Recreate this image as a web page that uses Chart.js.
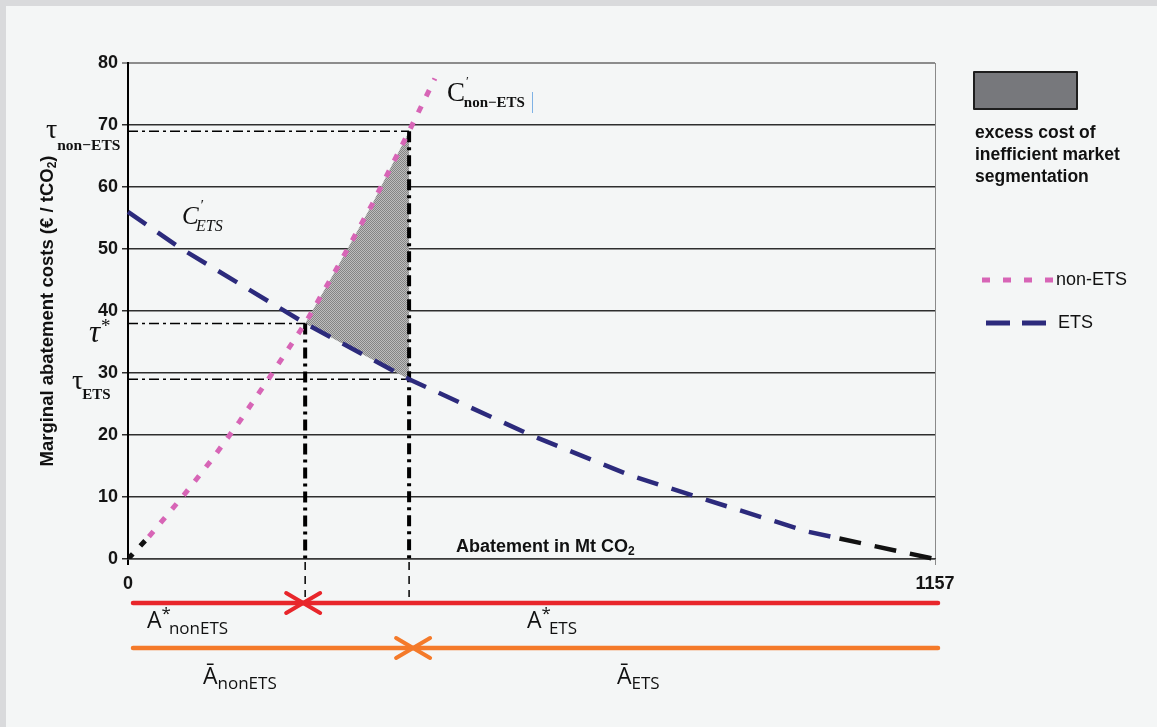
<!DOCTYPE html>
<html>
<head>
<meta charset="utf-8">
<script src="https://cdn.jsdelivr.net/npm/chart.js@4.4.1/dist/chart.umd.min.js"></script>
<style>
  html, body { margin: 0; padding: 0; background: #f4f6f6; }
  canvas { display: block; }
</style>
</head>
<body>
<canvas id="chart" width="1157" height="727"></canvas>
<script>
// Marginal abatement cost curves (€ / tCO2) against abatement (Mt CO2)
const costTicks = [0, 10, 20, 30, 40, 50, 60, 70, 80];
const abatementTicks = [0, 1157];

const etsX = [0, 77, 254, 403, 577, 720, 816, 975, 1020, 1157];
const etsY = [56, 50, 38, 29, 20, 13.5, 10, 4.4, 3.3, 0];

const nonEtsX = [0, 30, 80, 120, 160, 200, 254, 300, 350, 403, 440];
const nonEtsY = [0, 3.6, 10.3, 16.0, 22.2, 28.8, 38, 47, 57.2, 69, 77.5];

// Efficient split (common price τ*) and the fixed split Ā with its two prices
const optimumA = 254;
const optimumTau = 38;
const splitA = 403;
const tauNonEts = 69;
const tauEts = 29;

const pts = (xs, ys) => xs.map((x, i) => ({ x, y: ys[i] }));

// Excess cost area: between the non-ETS curve and the ETS curve from A* to Ā
const excessArea = [];
nonEtsX.forEach((x, i) => { if (x >= optimumA && x <= splitA) excessArea.push({ x, y: nonEtsY[i] }); });
for (let i = etsX.length - 1; i >= 0; i--) {
  if (etsX[i] >= optimumA && etsX[i] <= splitA) excessArea.push({ x: etsX[i], y: etsY[i] });
}

// fine dotted grey texture for the excess-cost area
function dotPattern(ctx, dark, light) {
  const c = document.createElement('canvas');
  c.width = 2; c.height = 2;
  const g = c.getContext('2d');
  g.fillStyle = light; g.fillRect(0, 0, 2, 2);
  g.fillStyle = dark; g.fillRect(0, 0, 1, 1); g.fillRect(1, 1, 1, 1);
  return ctx.createPattern(c, 'repeat');
}

const canvas = document.getElementById('chart');
const ctx0 = canvas.getContext('2d');
const areaFill = dotPattern(ctx0, '#858585', '#bdbdbd');

const PINK = '#d765b6';
const NAVY = '#2c2a7c';
const BLACK = '#111111';

function refLine(points, width, dash) {
  return {
    data: points, borderColor: '#000', borderWidth: width, borderDash: dash,
    pointRadius: 0, fill: false, tension: 0, clip: false, order: 5
  };
}

// draw a run of text pieces (base / sub / superscript) left to right
function rich(ctx, x, y, runs) {
  let cx = x;
  runs.forEach(r => {
    ctx.font = r.f;
    ctx.fillStyle = r.c || '#111';
    ctx.fillText(r.t, cx + (r.dx || 0), y + (r.dy || 0));
    cx += ctx.measureText(r.t).width + (r.dx || 0) + (r.gap || 0);
  });
  return cx;
}

const framePlugin = {
  id: 'frame',
  beforeDraw(chart) {
    const c = chart.ctx;
    c.save();
    c.fillStyle = '#d9dadc';
    c.fillRect(0, 0, chart.width, chart.height);
    c.fillStyle = '#f4f6f6';
    c.fillRect(6, 6, chart.width - 6, chart.height - 6);
    c.restore();
  }
};

function chevron(c, tipX, y, dir, color) {
  c.beginPath();
  c.moveTo(tipX - dir * 17, y - 10);
  c.lineTo(tipX, y);
  c.lineTo(tipX - dir * 17, y + 10);
  c.strokeStyle = color;
  c.stroke();
}

const notesPlugin = {
  id: 'notes',
  afterDraw(chart) {
    const c = chart.ctx;
    const xs = chart.scales.x, ys = chart.scales.y;
    const X = v => xs.getPixelForValue(v);
    const Y = v => ys.getPixelForValue(v);
    c.save();
    c.textBaseline = 'alphabetic';
    c.textAlign = 'left';

    const SERIF = '"Liberation Serif", "DejaVu Serif", serif';
    const SANS = '"Liberation Sans", Arial, sans-serif';
    const OPEN = '"Open Sans", "Noto Sans", sans-serif';

    // price labels on the cost axis
    rich(c, 46, Y(tauNonEts) + 7, [
      { t: 'τ', f: `28px ${SERIF}` },
      { t: 'non−ETS', f: `bold 15.5px ${SERIF}`, dx: 0, dy: 12 }
    ]);
    rich(c, 89, Y(optimumTau) + 19, [
      { t: 'τ', f: `italic 31px ${SERIF}` },
      { t: '*', f: `19px ${SERIF}`, dx: 1, dy: -10 }
    ]);
    rich(c, 72, Y(tauEts) + 10, [
      { t: 'τ', f: `28px ${SERIF}` },
      { t: 'ETS', f: `bold 15px ${SERIF}`, dx: -1, dy: 10 }
    ]);

    // curve names
    rich(c, 182, 224, [
      { t: 'C', f: `italic 25px ${SERIF}` },
      { t: '\u2032', f: `italic 15px ${SERIF}`, dx: 1, dy: -14, gap: -7 },
      { t: 'ETS', f: `italic 16px ${SERIF}`, dy: 7 }
    ]);
    rich(c, 447, 101, [
      { t: 'C', f: `27px ${SERIF}` },
      { t: '\u2032', f: `13px ${SERIF}`, dx: 1, dy: -16, gap: -5 },
      { t: 'non−ETS', f: `bold 15px ${SERIF}`, dy: 6 }
    ]);
    c.fillStyle = '#7fb2e5';
    c.fillRect(532, 92, 1, 21);

    // axis titles
    rich(c, 456, 552, [
      { t: 'Abatement in Mt CO', f: `bold 18px ${SANS}` },
      { t: '2', f: `bold 12px ${SANS}`, dy: 3 }
    ]);
    c.save();
    c.translate(53, 311);
    c.rotate(-Math.PI / 2);
    const TF = `bold 18.5px ${SANS}`, TS = `bold 12px ${SANS}`;
    c.font = TF;
    const tMain = 'Marginal abatement costs (€ / tCO';
    const wMain = c.measureText(tMain).width;
    const wEnd = c.measureText(')').width;
    c.font = TS;
    const wSub = c.measureText('2').width;
    const total = wMain + wSub + wEnd;
    rich(c, -total / 2, 0, [
      { t: tMain, f: TF },
      { t: '2', f: TS, dy: 3 },
      { t: ')', f: TF }
    ]);
    c.restore();

    // dashed drop lines below the axis
    c.lineWidth = 1.5;
    c.strokeStyle = '#000';
    c.setLineDash([8, 6]);
    [optimumA, splitA].forEach(v => {
      c.beginPath();
      c.moveTo(X(v), Y(0) + 3);
      c.lineTo(X(v), Y(0) + 38);
      c.stroke();
    });
    c.setLineDash([]);

    // allocation arrows
    const x0 = X(0) + 5, x1 = X(1157) + 3;
    c.lineCap = 'round';
    c.lineJoin = 'round';
    c.lineWidth = 4.5;
    const redY = 603, orY = 648;
    c.strokeStyle = '#e8262b';
    c.beginPath(); c.moveTo(x0, redY); c.lineTo(x1, redY); c.stroke();
    c.lineWidth = 4;
    chevron(c, X(optimumA) - 2, redY, 1, '#e8262b');
    chevron(c, X(optimumA) - 2, redY, -1, '#e8262b');
    c.lineWidth = 4.5;
    c.strokeStyle = '#f47a2a';
    c.beginPath(); c.moveTo(x0, orY); c.lineTo(x1, orY); c.stroke();
    c.lineWidth = 4;
    chevron(c, X(splitA) + 4, orY, 1, '#f47a2a');
    chevron(c, X(splitA) + 4, orY, -1, '#f47a2a');

    // allocation labels
    rich(c, 147, 628, [
      { t: 'A', f: `23px ${OPEN}` },
      { t: '*', f: `17px ${OPEN}`, dy: -9 },
      { t: 'nonETS', f: `17px ${OPEN}`, dx: -2, dy: 6 }
    ]);
    rich(c, 527, 628, [
      { t: 'A', f: `23px ${OPEN}` },
      { t: '*', f: `17px ${OPEN}`, dy: -9 },
      { t: 'ETS', f: `17px ${OPEN}`, dx: -2, dy: 6 }
    ]);
    rich(c, 203, 684, [
      { t: 'Ā', f: `23px ${OPEN}` },
      { t: 'nonETS', f: `17px ${OPEN}`, dy: 5 }
    ]);
    rich(c, 617, 684, [
      { t: 'Ā', f: `23px ${OPEN}` },
      { t: 'ETS', f: `17px ${OPEN}`, dy: 5 }
    ]);

    // legend
    c.lineCap = 'butt';
    c.fillStyle = '#77787c';
    c.fillRect(974, 72, 103, 37);
    c.lineWidth = 2;
    c.strokeStyle = '#1e1e1e';
    c.strokeRect(974, 72, 103, 37);
    c.fillStyle = '#111';
    c.font = `bold 17.5px ${SANS}`;
    ['excess cost of', 'inefficient market', 'segmentation'].forEach((t, i) => {
      c.fillText(t, 975, 138 + i * 22);
    });
    c.lineWidth = 5;
    c.strokeStyle = PINK;
    c.setLineDash([8, 13]);
    c.beginPath(); c.moveTo(982, 280); c.lineTo(1053, 280); c.stroke();
    c.strokeStyle = NAVY;
    c.setLineDash([24, 12]);
    c.beginPath(); c.moveTo(986, 323); c.lineTo(1048, 323); c.stroke();
    c.setLineDash([]);
    c.font = `18px ${SANS}`;
    c.fillStyle = '#111';
    c.textBaseline = 'middle';
    c.fillText('non-ETS', 1056, 280);
    c.fillText('ETS', 1058, 323);
    c.restore();
  }
};

new Chart(canvas, {
  type: 'line',
  data: {
    datasets: [
      {
        data: excessArea, fill: 'shape', backgroundColor: areaFill,
        borderWidth: 0, pointRadius: 0, tension: 0, order: 10
      },
      refLine([{ x: 0, y: tauNonEts }, { x: splitA, y: tauNonEts }], 1.5, [10, 4, 3, 4]),
      refLine([{ x: 0, y: optimumTau }, { x: optimumA, y: optimumTau }], 1.5, [10, 4, 3, 4]),
      refLine([{ x: 0, y: tauEts }, { x: splitA, y: tauEts }], 1.5, [10, 4, 3, 4]),
      refLine([{ x: optimumA, y: optimumTau }, { x: optimumA, y: 0 }], 4, [11, 5, 3, 5]),
      refLine([{ x: splitA, y: tauNonEts }, { x: splitA, y: 0 }], 4, [11, 5, 3, 5]),
      {
        label: 'non-ETS', data: pts(nonEtsX, nonEtsY),
        borderColor: PINK, borderWidth: 5, borderDash: [7, 11],
        pointRadius: 0, tension: 0, fill: false, order: 1,
        segment: { borderColor: s => (s.p1.parsed.x <= 30 ? BLACK : undefined) }
      },
      {
        label: 'ETS', data: pts(etsX, etsY),
        borderColor: NAVY, borderWidth: 4.5, borderDash: [22, 14],
        pointRadius: 0, tension: 0, fill: false, order: 1, clip: 4,
        segment: { borderColor: s => (s.p0.parsed.x >= 1020 ? BLACK : undefined) }
      }
    ]
  },
  options: {
    responsive: false,
    animation: false,
    devicePixelRatio: 1,
    layout: { padding: { top: 63, right: 222, left: 0, bottom: 0 } },
    plugins: { legend: { display: false }, tooltip: { enabled: false } },
    scales: {
      x: {
        type: 'linear', min: 0, max: 1157,
        afterBuildTicks: s => { s.ticks = abatementTicks.map(v => ({ value: v })); },
        afterFit: s => { s.height = 168; },
        grid: {
          color: c => (c.tick && c.tick.value === 0 ? '#000' : '#8a8a8a'),
          lineWidth: c => (c.tick && c.tick.value === 0 ? 2 : 1),
          tickLength: 6
        },
        border: { display: true, color: '#3a3a3a', width: 1.5 },
        ticks: {
          autoSkip: false, maxRotation: 0, padding: 8, color: '#141414',
          font: { family: '"Liberation Sans", Arial, sans-serif', size: 18, weight: 'bold' },
          callback: v => String(v)
        }
      },
      y: {
        type: 'linear', min: 0, max: 80,
        afterBuildTicks: s => { s.ticks = costTicks.map(v => ({ value: v })); },
        afterFit: s => { s.width = 128; },
        grid: {
          color: c => (c.tick && c.tick.value === 80 ? '#8c8c8c' : '#2e2e2e'),
          lineWidth: c => (c.tick && c.tick.value === 80 ? 2 : 1.5),
          tickLength: 6
        },
        border: { display: true, color: '#000', width: 2 },
        ticks: {
          padding: 4, color: '#141414',
          font: { family: '"Liberation Sans", Arial, sans-serif', size: 18, weight: 'bold' }
        }
      }
    }
  },
  plugins: [framePlugin, notesPlugin]
});
</script>
</body>
</html>
